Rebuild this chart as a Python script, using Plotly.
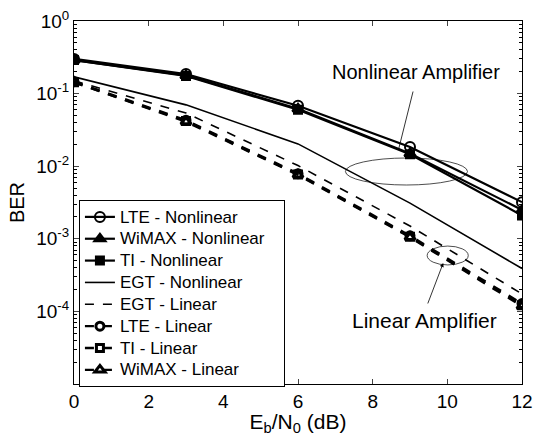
import plotly.graph_objects as go

ebn0 = [0, 3, 6, 9, 12]

lte_nl = [0.30, 0.186, 0.068, 0.0184, 0.0032]
wimax_nl = [0.29, 0.178, 0.062, 0.0150, 0.0025]
ti_nl = [0.29, 0.175, 0.060, 0.0146, 0.0021]
egt_nl = [0.17, 0.070, 0.0203, 0.0031, 0.00039]
egt_lin = [0.15, 0.054, 0.0102, 0.0015, 0.000174]
lte_lin = [0.146, 0.043, 0.0079, 0.00110, 0.000128]
ti_lin = [0.143, 0.042, 0.0077, 0.00107, 0.000122]
wimax_lin = [0.144, 0.041, 0.0076, 0.00105, 0.000118]

xticks = [0, 2, 4, 6, 8, 10, 12]
yticks = [1, 0.1, 0.01, 0.001, 0.0001]
yticktext = ["10<sup>0</sup>", "10<sup>-1</sup>", "10<sup>-2</sup>", "10<sup>-3</sup>", "10<sup>-4</sup>"]

fig = go.Figure()

def add(name, y, dash, symbol, lw, msize=9, mode="lines+markers", mlw=2):
    fig.add_trace(go.Scatter(
        x=ebn0, y=y, name='<span style="font-size:17px">' + name + '\u00a0\u00a0\u00a0</span>', mode=mode,
        line=dict(color="black", width=lw, dash=dash),
        marker=dict(symbol=symbol, size=msize, color="black",
                    line=dict(color="black", width=mlw)) if symbol else None,
    ))

add("LTE - Nonlinear", lte_nl, "solid", "circle-open", 2.2, 10)
add("WiMAX - Nonlinear", wimax_nl, "solid", "triangle-up", 2.2, 10)
add("TI - Nonlinear", ti_nl, "solid", "square", 2.2, 8)
add("EGT - Nonlinear", egt_nl, "solid", None, 1.6, mode="lines")
add("EGT - Linear", egt_lin, "dash", None, 1.6, mode="lines")
add("LTE - Linear", lte_lin, "dash", "circle-open", 2.4, 8, mlw=3)
add("TI - Linear", ti_lin, "dash", "square-open", 2.4, 7, mlw=3)
add("WiMAX - Linear", wimax_lin, "dash", "triangle-up-open", 2.4, 9, mlw=3)

font = "Liberation Sans, Arial, sans-serif"

minor_vals = []
for e in range(-5, 0):
    for m in range(2, 10):
        minor_vals.append(m * 10 ** e)

fig.update_xaxes(
    range=[0, 12], tickvals=xticks, ticks="inside", ticklen=5, automargin=False,
    showline=True, linecolor="black", linewidth=1, mirror="allticks",
    showgrid=False, zeroline=False,
    tickfont=dict(family=font, size=19, color="black"),
    title=dict(text="E<sub>b</sub>/N<sub>0</sub> (dB)", font=dict(family=font, size=21, color="black"), standoff=4),
)
fig.update_yaxes(
    type="log", range=[-5, 0], tickvals=yticks, ticktext=yticktext, automargin=False,
    ticks="inside", ticklen=5,
    minor=dict(ticks="inside", ticklen=3, tickvals=minor_vals, tickcolor="black"),
    showline=True, linecolor="black", linewidth=1, mirror="allticks",
    showgrid=False, zeroline=False,
    tickfont=dict(family=font, size=19, color="black"),
    title=dict(text="BER", font=dict(family=font, size=20, color="black"), standoff=6),
)

# ellipses (data units on log axis)
fig.add_shape(type="circle", xref="x", yref="y",
              x0=7.27, x1=10.54, y0=10 ** -1.887, y1=10 ** -2.259,
              line=dict(color="black", width=0.7))
fig.add_shape(type="circle", xref="x", yref="y",
              x0=9.46, x1=10.56, y0=10 ** -3.10, y1=10 ** -3.36,
              line=dict(color="black", width=0.7))

fig.add_annotation(x=9.15, y=-0.70, xref="x", yref="y", text="Nonlinear Amplifier",
                   showarrow=False, font=dict(family=font, size=20, color="black"))
fig.add_annotation(x=8.69, y=-1.777, xref="x", yref="y", text="",
                   showarrow=True, arrowhead=0, arrowwidth=0.8, arrowcolor="black",
                   ax=15, ay=-60)
fig.add_annotation(x=9.4, y=-4.13, xref="x", yref="y", text="Linear Amplifier",
                   showarrow=False, font=dict(family=font, size=21, color="black"))
fig.add_annotation(x=9.89, y=-3.333, xref="x", yref="y", text="",
                   showarrow=True, arrowhead=2, arrowsize=1, arrowwidth=0.8, arrowcolor="black",
                   ax=-16, ay=42)

fig.update_layout(
    width=533, height=436, autosize=False,
    margin=dict(l=74, r=11, t=21, b=52, autoexpand=False),
    paper_bgcolor="white", plot_bgcolor="white",
    font=dict(family=font, color="black"),
    showlegend=True,
    legend=dict(x=0.011, y=0.507, xanchor="left", yanchor="top",
                bgcolor="white", bordercolor="black", borderwidth=1,
                font=dict(family=font, size=14.5, color="black"),
                tracegroupgap=0, itemwidth=30),
)

fig.write_html("out.html")
